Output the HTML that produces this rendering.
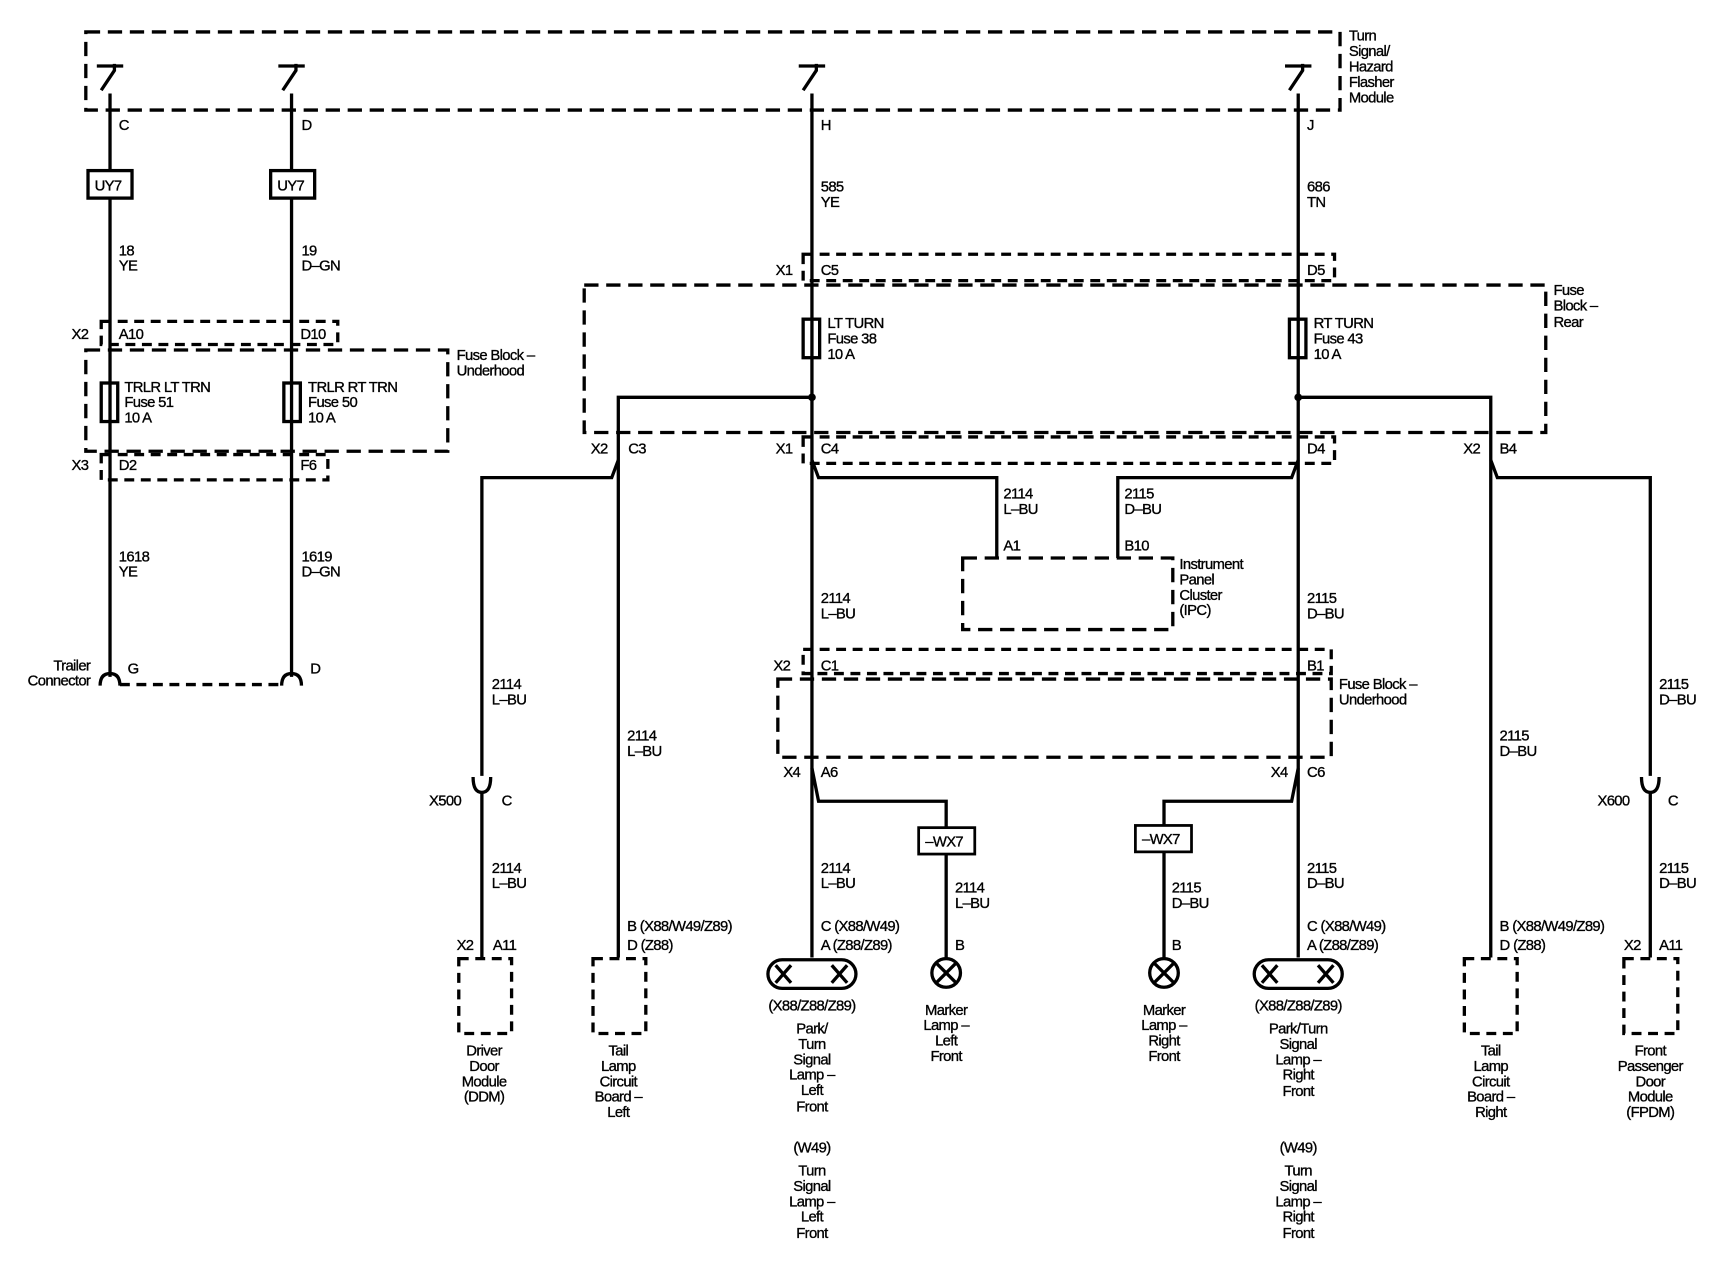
<!DOCTYPE html>
<html><head><meta charset="utf-8"><style>
html,body{margin:0;padding:0;background:#fff;width:1724px;height:1280px;overflow:hidden}
svg{display:block}
text{font-family:"Liberation Sans",sans-serif;font-size:13.5px;fill:#000;letter-spacing:-0.6px;stroke:#000;stroke-width:0.3}
.w{stroke:#000;stroke-width:3;fill:none}
.d{stroke:#000;stroke-width:3;fill:none;stroke-dasharray:13 7}
.s{stroke:#000;stroke-width:3;fill:none;stroke-dasharray:9 6}
.m text{text-anchor:middle}
</style></head><body>
<svg width="1724" height="1280" viewBox="0 0 1567 1163" preserveAspectRatio="none" xmlns="http://www.w3.org/2000/svg">
<rect class="d" x="78" y="29" width="1140" height="71"/>
<g class="w">
<path d="M100 85V615M265 85V615M738 85V870M1180 85V870"/>
<path d="M92 82L104 64V58M88 60H112"/>
<path d="M257 82L269 64V58M253 60H277"/>
<path d="M730 82L742 64V58M726 60H750"/>
<path d="M1172 82L1184 64V58M1168 60H1192"/>
</g>
<text x="1226" y="37">Turn</text><text x="1226" y="51">Signal/</text><text x="1226" y="65">Hazard</text><text x="1226" y="79">Flasher</text><text x="1226" y="93">Module</text>
<text x="108" y="118">C</text><text x="274" y="118">D</text><text x="746" y="118">H</text><text x="1188" y="118">J</text>
<rect x="80" y="155" width="40" height="25" fill="#fff" stroke="#000" stroke-width="3"/>
<rect x="246" y="155" width="40" height="25" fill="#fff" stroke="#000" stroke-width="3"/>
<text x="86" y="173">UY7</text><text x="252" y="173">UY7</text>
<text x="108" y="232">18</text><text x="108" y="246">YE</text>
<text x="274" y="232">19</text><text x="274" y="246">D–GN</text>
<rect class="s" x="92" y="292" width="215" height="21"/>
<text x="65" y="308">X2</text><text x="108" y="308">A10</text><text x="273" y="308">D10</text>
<rect class="d" x="78" y="318" width="329" height="92"/>
<rect x="92" y="348" width="15" height="35" fill="#fff" stroke="#000" stroke-width="3"/>
<rect x="258" y="348" width="15" height="35" fill="#fff" stroke="#000" stroke-width="3"/>
<path class="w" d="M100 348V383M265 348V383"/>
<text x="113" y="356">TRLR LT TRN</text><text x="113" y="370">Fuse 51</text><text x="113" y="384">10 A</text>
<text x="280" y="356">TRLR RT TRN</text><text x="280" y="370">Fuse 50</text><text x="280" y="384">10 A</text>
<text x="415" y="327">Fuse Block –</text><text x="415" y="341">Underhood</text>
<rect class="s" x="92" y="413" width="206" height="23"/>
<text x="65" y="427">X3</text><text x="108" y="427">D2</text><text x="273" y="427">F6</text>
<text x="108" y="510">1618</text><text x="108" y="524">YE</text>
<text x="274" y="510">1619</text><text x="274" y="524">D–GN</text>
<path class="w" d="M91 623Q91 612 100 612Q109 612 109 623M256 623Q256 612 265 612Q274 612 274 623"/>
<path class="s" d="M109 622H256"/>
<text x="82" y="609" text-anchor="end">Trailer</text><text x="82" y="623" text-anchor="end">Connector</text>
<text x="116" y="612">G</text><text x="282" y="612">D</text>
<text x="746" y="174">585</text><text x="746" y="188">YE</text>
<text x="1188" y="174">686</text><text x="1188" y="188">TN</text>
<rect class="s" x="730" y="231" width="483" height="24"/>
<text x="705" y="250">X1</text><text x="746" y="250">C5</text><text x="1188" y="250">D5</text>
<rect class="d" x="531" y="259" width="874" height="134"/>
<text x="1412" y="268">Fuse</text><text x="1412" y="282">Block –</text><text x="1412" y="297">Rear</text>
<rect x="730" y="290" width="15" height="35" fill="#fff" stroke="#000" stroke-width="3"/>
<rect x="1172" y="290" width="15" height="35" fill="#fff" stroke="#000" stroke-width="3"/>
<path class="w" d="M738 290V325M1180 290V325"/>
<text x="752" y="298">LT TURN</text><text x="752" y="312">Fuse 38</text><text x="752" y="326">10 A</text>
<text x="1194" y="298">RT TURN</text><text x="1194" y="312">Fuse 43</text><text x="1194" y="326">10 A</text>
<circle cx="738" cy="361" r="3.5"/><circle cx="1180" cy="361" r="3.5"/>
<g class="w">
<path d="M738 361H562V870M1180 361H1355V870"/>
<path d="M562 418L556 434H438V705M738 418L744 434H906V507M1180 418L1174 434H1016V507M1355 418L1361 434H1500V705"/>
<path d="M438 719V870M1500 719V870"/>
<path d="M430 706Q430 720 438 720Q446 720 446 706M1492 706Q1492 720 1500 720Q1508 720 1508 706"/>
<path d="M738 698L744 728H860V870M1180 698L1174 728H1058V870"/>
</g>
<rect class="s" x="730" y="397" width="483" height="24"/>
<text x="537" y="412">X2</text><text x="571" y="412">C3</text>
<text x="705" y="412">X1</text><text x="746" y="412">C4</text><text x="1188" y="412">D4</text>
<text x="1330" y="412">X2</text><text x="1363" y="412">B4</text>
<text x="912" y="453">2114</text><text x="912" y="467">L–BU</text>
<text x="1022" y="453">2115</text><text x="1022" y="467">D–BU</text>
<text x="912" y="500">A1</text><text x="1022" y="500">B10</text>
<rect class="d" x="875" y="507" width="191" height="65"/>
<text x="1072" y="517">Instrument</text><text x="1072" y="531">Panel</text><text x="1072" y="545">Cluster</text><text x="1072" y="559">(IPC)</text>
<text x="746" y="548">2114</text><text x="746" y="562">L–BU</text>
<text x="1188" y="548">2115</text><text x="1188" y="562">D–BU</text>
<text x="447" y="626">2114</text><text x="447" y="640">L–BU</text>
<text x="1508" y="626">2115</text><text x="1508" y="640">D–BU</text>
<text x="570" y="673">2114</text><text x="570" y="687">L–BU</text>
<text x="1363" y="673">2115</text><text x="1363" y="687">D–BU</text>
<rect class="s" x="730" y="590" width="480" height="22"/>
<text x="703" y="609">X2</text><text x="746" y="609">C1</text><text x="1188" y="609">B1</text>
<rect class="d" x="707" y="617" width="503" height="71"/>
<text x="1217" y="626">Fuse Block –</text><text x="1217" y="640">Underhood</text>
<text x="712" y="706">X4</text><text x="746" y="706">A6</text><text x="1155" y="706">X4</text><text x="1188" y="706">C6</text>
<text x="390" y="732">X500</text><text x="456" y="732">C</text>
<text x="1452" y="732">X600</text><text x="1516" y="732">C</text>
<rect x="835" y="752" width="51" height="24" fill="#fff" stroke="#000" stroke-width="2.5"/>
<rect x="1032" y="750" width="51" height="24" fill="#fff" stroke="#000" stroke-width="2.5"/>
<text x="841" y="769">–WX7</text><text x="1038" y="767">–WX7</text>
<text x="447" y="793">2114</text><text x="447" y="807">L–BU</text>
<text x="746" y="793">2114</text><text x="746" y="807">L–BU</text>
<text x="868" y="811">2114</text><text x="868" y="825">L–BU</text>
<text x="1065" y="811">2115</text><text x="1065" y="825">D–BU</text>
<text x="1188" y="793">2115</text><text x="1188" y="807">D–BU</text>
<text x="1508" y="793">2115</text><text x="1508" y="807">D–BU</text>
<text x="570" y="846">B (X88/W49/Z89)</text><text x="570" y="863">D (Z88)</text>
<text x="746" y="846">C (X88/W49)</text><text x="746" y="863">A (Z88/Z89)</text>
<text x="1188" y="846">C (X88/W49)</text><text x="1188" y="863">A (Z88/Z89)</text>
<text x="1363" y="846">B (X88/W49/Z89)</text><text x="1363" y="863">D (Z88)</text>
<text x="415" y="863">X2</text><text x="448" y="863">A11</text>
<text x="1476" y="863">X2</text><text x="1508" y="863">A11</text>
<text x="868" y="863">B</text><text x="1065" y="863">B</text>
<rect class="s" x="417" y="871" width="48" height="68"/>
<rect class="s" x="539" y="871" width="48" height="68"/>
<rect class="s" x="1331" y="871" width="48" height="68"/>
<rect class="s" x="1476" y="871" width="49" height="68"/>
<rect x="698" y="872" width="80" height="26" rx="13" fill="#fff" stroke="#000" stroke-width="3"/>
<rect x="1140" y="872" width="80" height="26" rx="13" fill="#fff" stroke="#000" stroke-width="3"/>
<g class="w" stroke-width="2.5">
<path d="M705 877L719 893M719 877L705 893M756 877L770 893M770 877L756 893"/>
<path d="M1147 877L1161 893M1161 877L1147 893M1198 877L1212 893M1212 877L1198 893"/>
<circle cx="860" cy="884" r="13" fill="#fff"/><path d="M851 875L869 893M869 875L851 893"/>
<circle cx="1058" cy="884" r="13" fill="#fff"/><path d="M1049 875L1067 893M1067 875L1049 893"/>
</g>
<g class="m">
<text x="440" y="959">Driver</text><text x="440" y="973">Door</text><text x="440" y="987">Module</text><text x="440" y="1001">(DDM)</text>
<text x="562" y="959">Tail</text><text x="562" y="973">Lamp</text><text x="562" y="987">Circuit</text><text x="562" y="1001">Board –</text><text x="562" y="1015">Left</text>
<text x="738" y="918">(X88/Z88/Z89)</text>
<text x="738" y="939">Park/</text><text x="738" y="953">Turn</text><text x="738" y="967">Signal</text><text x="738" y="981">Lamp –</text><text x="738" y="995">Left</text><text x="738" y="1010">Front</text>
<text x="738" y="1047">(W49)</text>
<text x="738" y="1068">Turn</text><text x="738" y="1082">Signal</text><text x="738" y="1096">Lamp –</text><text x="738" y="1110">Left</text><text x="738" y="1125">Front</text>
<text x="860" y="922">Marker</text><text x="860" y="936">Lamp –</text><text x="860" y="950">Left</text><text x="860" y="964">Front</text>
<text x="1058" y="922">Marker</text><text x="1058" y="936">Lamp –</text><text x="1058" y="950">Right</text><text x="1058" y="964">Front</text>
<text x="1180" y="918">(X88/Z88/Z89)</text>
<text x="1180" y="939">Park/Turn</text><text x="1180" y="953">Signal</text><text x="1180" y="967">Lamp –</text><text x="1180" y="981">Right</text><text x="1180" y="996">Front</text>
<text x="1180" y="1047">(W49)</text>
<text x="1180" y="1068">Turn</text><text x="1180" y="1082">Signal</text><text x="1180" y="1096">Lamp –</text><text x="1180" y="1110">Right</text><text x="1180" y="1125">Front</text>
<text x="1355" y="959">Tail</text><text x="1355" y="973">Lamp</text><text x="1355" y="987">Circuit</text><text x="1355" y="1001">Board –</text><text x="1355" y="1015">Right</text>
<text x="1500" y="959">Front</text><text x="1500" y="973">Passenger</text><text x="1500" y="987">Door</text><text x="1500" y="1001">Module</text><text x="1500" y="1015">(FPDM)</text>
</g>
</svg>
</body></html>
